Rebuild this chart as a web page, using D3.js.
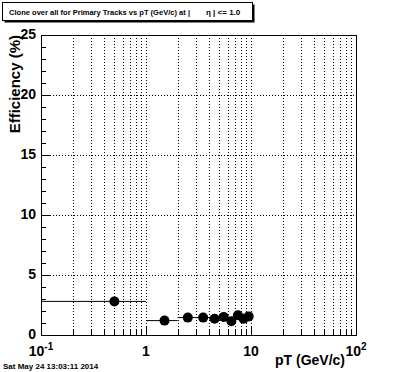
<!DOCTYPE html>
<html lang="en">
<head>
<meta charset="UTF-8">
<title>Clone efficiency vs pT</title>
<style>
    body { margin: 0; background: #fff; overflow: hidden; }
    svg { display: block; font-family: "Liberation Sans", Arial, sans-serif; }
    .tick-label { font-size: 14px; font-weight: bold; fill: #000; }
    .grid line { stroke: #000; stroke-width: 1; stroke-dasharray: 1,2; shape-rendering: crispEdges; }
</style>
</head>
<body>
<svg id="chart" width="396" height="372"></svg>
<script src="https://d3js.org/d3.v7.min.js"></script>
<script>
// bins in pT (GeV/c) and clone efficiency (%)
const binLow  = [0.1, 1, 2, 3, 4, 5, 6, 7, 8, 9];
const binHigh = [1, 2, 3, 4, 5, 6, 7, 8, 9, 10];
const binCenter = [0.5, 1.5, 2.5, 3.5, 4.5, 5.5, 6.5, 7.5, 8.5, 9.5];
const efficiency = [2.8, 1.2, 1.45, 1.45, 1.35, 1.5, 1.15, 1.65, 1.35, 1.55];
const yTicks = [0, 5, 10, 15, 20, 25];
const xMajor = [0.1, 1, 10, 100];

const margin = { top: 35, right: 40, bottom: 37, left: 41 },
      width = 396 - margin.left - margin.right,
      height = 372 - margin.top - margin.bottom;

const svg = d3.select("#chart");
const g = svg.append("g").attr("transform", `translate(${margin.left},${margin.top})`);

const x = d3.scaleLog().domain([0.1, 100]).range([0, width]);
const y = d3.scaleLinear().domain([0, 25]).range([height, 0]);

// minor ticks 2..9 for every decade
const xMinor = [];
[0.1, 1, 10].forEach(d => { for (let k = 2; k <= 9; k++) xMinor.push(d * k); });
const yMinor = d3.range(0, 26).filter(v => v % 5 !== 0);

// grid
const grid = g.append("g").attr("class", "grid");
grid.selectAll(".gx").data(xMinor.concat([1, 10])).enter().append("line")
    .attr("x1", d => Math.round(x(d)) + 0.5).attr("x2", d => Math.round(x(d)) + 0.5)
    .attr("y1", 0).attr("y2", height);
grid.selectAll(".gy").data(yTicks.slice(1, -1)).enter().append("line")
    .attr("x1", 0).attr("x2", width)
    .attr("y1", d => Math.round(y(d)) + 0.5).attr("y2", d => Math.round(y(d)) + 0.5);

// ticks (inside, ROOT style)
const ticks = g.append("g").attr("stroke", "#000").attr("shape-rendering", "crispEdges");
ticks.selectAll(".ymaj").data(yTicks).enter().append("line")
    .attr("x1", 0).attr("x2", 9).attr("y1", d => Math.round(y(d)) + 0.5).attr("y2", d => Math.round(y(d)) + 0.5);
ticks.selectAll(".ymin").data(yMinor).enter().append("line")
    .attr("x1", 0).attr("x2", 5).attr("y1", d => Math.round(y(d)) + 0.5).attr("y2", d => Math.round(y(d)) + 0.5);
ticks.selectAll(".xmaj").data(xMajor).enter().append("line")
    .attr("x1", d => Math.round(x(d)) + 0.5).attr("x2", d => Math.round(x(d)) + 0.5)
    .attr("y1", height).attr("y2", height - 9);
ticks.selectAll(".xmin").data(xMinor).enter().append("line")
    .attr("x1", d => Math.round(x(d)) + 0.5).attr("x2", d => Math.round(x(d)) + 0.5)
    .attr("y1", height).attr("y2", height - 5);

// frame
g.append("rect").attr("x", 0.5).attr("y", 0.5).attr("width", width).attr("height", height)
    .attr("fill", "none").attr("stroke", "#000").attr("stroke-width", 1);

// y tick labels
g.selectAll(".ylab").data(yTicks).enter().append("text")
    .attr("class", "tick-label")
    .attr("x", -5).attr("y", d => y(d) + 4)
    .attr("text-anchor", "end")
    .text(d => d);

// x tick labels
const xl = g.selectAll(".xlab").data(xMajor).enter().append("text")
    .attr("class", "tick-label")
    .attr("x", d => x(d)).attr("y", height + 21)
    .attr("text-anchor", "middle");
xl.each(function(d) {
    const t = d3.select(this);
    if (d === 0.1 || d === 100) {
        t.append("tspan").text("10");
        t.append("tspan").attr("dy", -6).style("font-size", "10px").text(d === 0.1 ? "-1" : "2");
    } else {
        t.text(d);
    }
});

// axis titles
g.append("text").attr("class", "tick-label")
    .attr("transform", `translate(-21,0) rotate(-90)`)
    .attr("text-anchor", "end").style("font-size", "15px")
    .text("Efficiency (%)");
g.append("text").attr("class", "tick-label")
    .attr("x", width - 11).attr("y", height + 30)
    .attr("text-anchor", "end").style("font-size", "14px")
    .text("pT (GeV/c)");

// error bars along x (bin widths)
g.selectAll(".ex").data(efficiency).enter().append("line")
    .attr("x1", (d, i) => x(binLow[i])).attr("x2", (d, i) => x(binHigh[i]))
    .attr("y1", d => y(d)).attr("y2", d => y(d))
    .attr("stroke", "#000").attr("stroke-width", 1);

// markers
g.selectAll(".pt").data(efficiency).enter().append("circle")
    .attr("cx", (d, i) => x(binCenter[i])).attr("cy", d => y(d))
    .attr("r", 5).attr("fill", "#000");

// title box
svg.append("rect").attr("x", 4.5).attr("y", 4.5).attr("width", 250).attr("height", 18)
    .attr("fill", "#000");
svg.append("rect").attr("x", 2.5).attr("y", 2.5).attr("width", 250).attr("height", 18)
    .attr("fill", "#fff").attr("stroke", "#000").attr("stroke-width", 1);
svg.append("text").attr("x", 9).attr("y", 15)
    .style("font-size", "8px").style("font-weight", "bold")
    .attr("textLength", 181).attr("lengthAdjust", "spacingAndGlyphs")
    .text("Clone  over all for Primary Tracks vs pT (GeV/c) at |");
svg.append("text").attr("x", 206).attr("y", 15)
    .style("font-size", "8px").style("font-weight", "bold")
    .text("\u03b7 | <= 1.0");

// date stamp
svg.append("text").attr("x", 3).attr("y", 369)
    .style("font-size", "8px").style("font-weight", "bold")
    .text("Sat May 24 13:03:11 2014");
</script>
</body>
</html>
